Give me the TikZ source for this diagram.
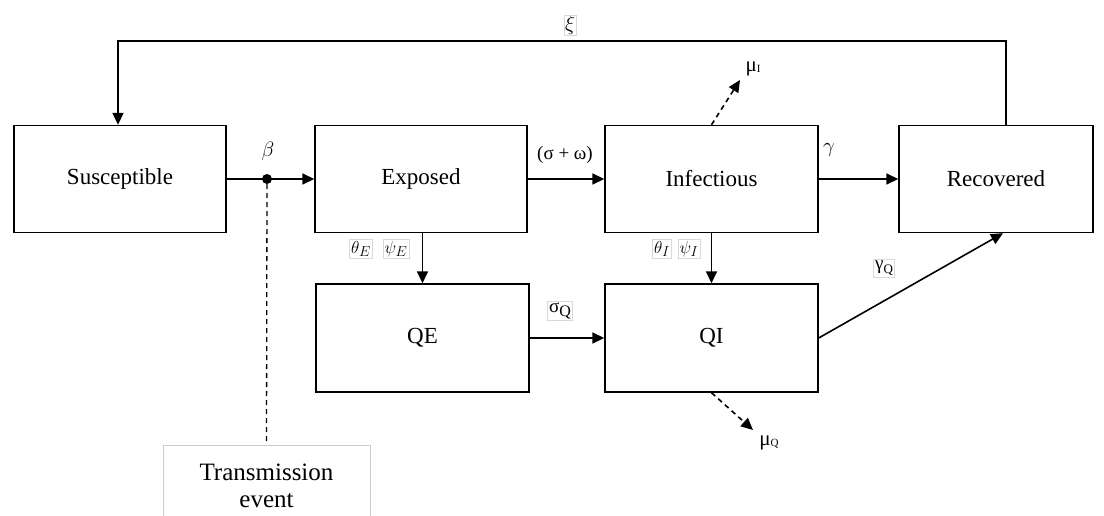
\documentclass[tikz,border=0pt]{standalone}
\usepackage{fontspec}
\setmainfont{Liberation Serif}
\usetikzlibrary{arrows.meta,calc}
\begin{document}
\begin{tikzpicture}[x=1pt,y=-1pt,
  box/.style={draw,line width=1.4pt,inner sep=0pt,font=\fontsize{23}{27}\selectfont},
  arr/.style={line width=1.6pt,-{Triangle[length=12pt,width=11pt]}},
  darr/.style={arr,dash pattern=on 5pt off 4pt},
  lab/.style={inner sep=1pt,font=\fontsize{19}{21}\selectfont},
  tag/.style={draw=gray!30,line width=0.5pt,inner sep=1.5pt,font=\fontsize{19}{21}\selectfont}]
\useasboundingbox (0,0) rectangle (1104,515);
\clip (0,0) rectangle (1104,515);

% compartments
\node[box,minimum width=212,minimum height=107] (S)  at (120,179)   {Susceptible};
\node[box,minimum width=212,minimum height=107] (E)  at (421,179)   {Exposed};
\node[box,minimum width=213,minimum height=107] (I)  at (711.5,179) {Infectious};
\node[box,minimum width=194,minimum height=107] (R)  at (996,179)   {Recovered};
\node[box,minimum width=213,minimum height=108] (QE) at (422.5,338) {QE};
\node[box,minimum width=213,minimum height=108] (QI) at (711.5,338) {QI};

% transmission event
\node[draw=gray!40,line width=0.6pt,minimum width=207,anchor=north,align=center,
      inner ysep=19pt,font=\fontsize{25}{27}\selectfont] (T) at (266.5,445) {Transmission\\event};
\node[circle,fill,inner sep=0pt,minimum size=10pt] (dot) at (267,179) {};

% flows
\draw[arr] (S) -- (E);
\draw[line width=1.3pt,dash pattern=on 5pt off 4pt] (dot) -- (T.north);
\draw[arr] (E) -- (I);
\draw[arr] (I) -- (R);
\draw[arr] (E.south -| QE.north) -- (QE.north);
\draw[arr] (I) -- (QI);
\draw[arr] (QE) -- (QI);
\coordinate (Rin) at ($(R.south)+(7,0)$);
\draw[arr] (QI.east) -- (Rin);
\coordinate (rt) at (1006,41);
\coordinate (lt) at (118,41);
\draw[arr] (rt |- R.north) -- (rt) -- (lt) -- (lt |- S.north);
\coordinate (muI) at (740,80);
\coordinate (muQ) at (753,430);
\draw[darr] (I.north) -- (muI);
\draw[darr] (QI.south) -- (muQ);

% rates
\node[lab,font=\fontsize{21}{23}\selectfont] (lbeta) at (268,151) {$\beta$};
\node[lab] (lsw) at (565,155) {(σ + ω)};
\node[lab,font=\fontsize{21}{23}\selectfont] (lgam) at (829,150) {$\gamma$};
\node[tag] (lthE) at (361,249) {$\theta_E$};
\node[tag] (lpsE) at (396,249) {$\psi_E$};
\node[tag] (lthI) at (662,249) {$\theta_I$};
\node[tag] (lpsI) at (689,249) {$\psi_I$};
\node[tag] (lsQ) at (560,311) {σ\raisebox{-4pt}{\fontsize{16}{16}\selectfont Q}};
\node[tag] (lgQ) at (884,268) {γ\raisebox{-4pt}{\fontsize{13}{13}\selectfont Q}};
\node[lab,font=\fontsize{21}{23}\selectfont] (lmuI) at (753,69) {μ\raisebox{-1pt}{\fontsize{11}{11}\selectfont I}};
\node[lab,font=\fontsize{21}{23}\selectfont] (lmuQ) at (769,443) {μ\raisebox{-1pt}{\fontsize{11}{11}\selectfont Q}};
\node[tag,inner sep=1pt,font=\fontsize{22}{24}\selectfont] (lxi) at (570,25) {$\xi$};
\end{tikzpicture}
\end{document}
